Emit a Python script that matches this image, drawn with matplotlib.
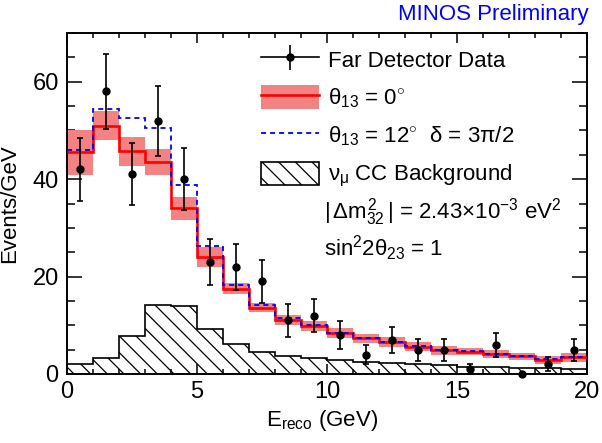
import matplotlib
matplotlib.use("Agg")
import matplotlib.pyplot as plt
from matplotlib.patches import Patch
from matplotlib.lines import Line2D
import numpy as np

plt.rcParams["font.family"] = ["Liberation Sans", "DejaVu Sans"]
plt.rcParams["mathtext.fontset"] = "custom"
plt.rcParams["mathtext.rm"] = "Liberation Sans"
plt.rcParams["mathtext.it"] = "Liberation Sans"
plt.rcParams["mathtext.bf"] = "Liberation Sans:bold"
plt.rcParams["hatch.linewidth"] = 0.9

# bin edges (GeV)
edges = np.arange(0, 21, 1)

# Far Detector data (events/GeV)
data = [42, 58, 41, 52, 40, 23, 22, 19, 11, 12, 8, 4, 7, 5, 5, 1, 6, 0, 2, 5]

# prediction theta13 = 0 and its systematic band (half width)
pred0 = [45.5, 51.0, 45.7, 43.5, 34.0, 24.0, 17.5, 13.6, 11.1, 9.9,
         8.4, 7.3, 6.5, 5.6, 4.9, 4.6, 4.1, 3.6, 2.9, 3.4]
band0 = [4.6, 2.9, 2.9, 2.7, 2.4, 2.1, 1.1, 0.9, 1.0, 1.0,
         1.0, 1.0, 1.0, 0.9, 0.9, 0.8, 0.8, 0.8, 0.8, 0.9]

# prediction theta13 = 12 deg, delta = 3pi/2
pred12 = [46.0, 54.3, 52.5, 50.6, 38.8, 26.2, 18.3, 14.1, 11.4, 10.1,
          8.5, 7.4, 6.6, 5.7, 5.0, 4.7, 4.2, 3.7, 3.0, 3.5]

# numu CC background
bkg = [2.0, 3.2, 7.7, 14.1, 13.9, 9.3, 6.1, 4.5, 3.6, 3.2,
       2.8, 2.5, 2.3, 2.1, 1.8, 1.5, 1.5, 1.2, 1.2, 1.0]

BAND = "#f38383"
RED = "#ff0000"
BLUE = "#0000ff"

fig = plt.figure(figsize=(6.02, 4.43), dpi=100)
ax = fig.add_axes([67 / 602, 69 / 443, 520 / 602, 341 / 443])

pred0 = np.array(pred0)
band0 = np.array(band0)
centers = 0.5 * (edges[:-1] + edges[1:])
data = np.array(data, dtype=float)

ax.stairs(bkg, edges, fill=True, facecolor="white", edgecolor="black",
          hatch=r"\\", linewidth=0, zorder=1)
ax.stairs(bkg, edges, baseline=None, color="black", linewidth=1.2, zorder=1.5)
ax.stairs(pred0 + band0, edges, baseline=pred0 - band0, fill=True,
          facecolor=BAND, edgecolor="none", linewidth=0, zorder=2)
ax.stairs(pred0, edges, baseline=None, color=RED, linewidth=1.9, zorder=3)
ax.stairs(pred12, edges, baseline=None, color=BLUE, linewidth=1.3,
          linestyle=(0, (2.8, 2.2)), zorder=4)
ax.errorbar(centers, data, yerr=np.sqrt(data), fmt="o", color="black",
            ms=5, elinewidth=1.2, capsize=2, capthick=1.2, zorder=5,
            clip_on=False)

ax.set_xlim(0, 20)
ax.set_ylim(0, 70)
ax.set_xticks([0, 5, 10, 15, 20])
ax.set_xticks(np.arange(0, 21, 1), minor=True)
ax.set_yticks([0, 20, 40, 60])
ax.set_yticks(np.arange(0, 71, 5), minor=True)
ax.tick_params(axis="both", which="both", direction="in", top=True,
               right=True, labelsize=17, width=1.1)
ax.tick_params(axis="x", which="major", length=7.5, pad=5)
ax.tick_params(axis="x", which="minor", length=3.8)
ax.tick_params(axis="y", which="major", length=11, pad=6)
ax.tick_params(axis="y", which="minor", length=5.5)
for s in ax.spines.values():
    s.set_linewidth(1.4)

ax.set_xlabel(r"E$_{\rm reco}$ (GeV)", fontsize=16)
ax.set_ylabel("Events/GeV", fontsize=16)
ax.xaxis.set_label_coords(0.49, -0.1)
ax.yaxis.set_label_coords(-0.09, 0.5)

fig.text(0.977, 0.99, "MINOS Preliminary", color=BLUE, fontsize=16,
         ha="right", va="top")

# legend
h_data = (Line2D([], [], color="black", lw=1.2),
          Line2D([], [], color="black", marker="|", ms=18, mew=1.2, ls="none"),
          Line2D([], [], color="black", marker="o", ms=5, ls="none"))
h_0 = (Patch(facecolor=BAND, edgecolor="none"),
       Line2D([], [], color=RED, lw=1.9))
h_12 = Line2D([], [], color=BLUE, lw=1.3, linestyle=(0, (2.8, 2.2)))
h_bkg = Patch(facecolor="white", edgecolor="black", hatch=r"\\", lw=1.2)
labels = ["Far Detector Data",
          r"$\theta_{13}$ = 0$^{\circ}$",
          r"$\theta_{13}$ = 12$^{\circ}$  $\delta$ = 3$\pi$/2",
          r"$\nu_{\mu}$ CC Background"]
ax.legend([h_data, h_0, h_12, h_bkg], labels, loc="upper left",
          bbox_to_anchor=(0.365, 0.97), frameon=False, fontsize=16,
          handlelength=2.6, handleheight=1.25, labelspacing=0.6,
          handletextpad=0.4, borderpad=0.2, borderaxespad=0)

ax.text(0.495, 0.475, r"$|\,\Delta m^{2}_{32}\,|$ = 2.43$\times$10$^{-3}$ eV$^{2}$",
        transform=ax.transAxes, fontsize=16, ha="left", va="center")
ax.text(0.495, 0.368, r"sin$^{2}$2$\theta_{23}$ = 1",
        transform=ax.transAxes, fontsize=16, ha="left", va="center")

plt.savefig("out.png", dpi=100, facecolor="white")
